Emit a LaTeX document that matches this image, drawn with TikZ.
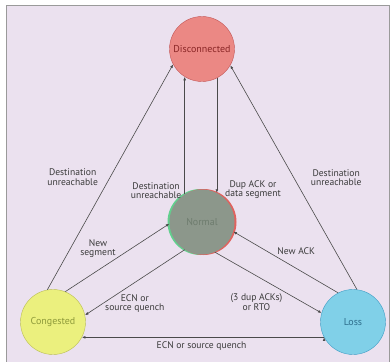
\documentclass[tikz,border=0pt]{standalone}
\usepackage{fontspec}
\setmainfont{PT Sans}
\usetikzlibrary{arrows.meta, positioning}
\definecolor{bgpurple}{HTML}{EBE1EF}
\definecolor{framegray}{HTML}{9A9A9A}
\definecolor{linegray}{HTML}{4A4A4A}
\definecolor{labelgray}{HTML}{3A3A3A}
\definecolor{discfill}{HTML}{EB8884}
\definecolor{discdraw}{HTML}{C25555}
\definecolor{disctext}{HTML}{8A2626}
\definecolor{normfill}{HTML}{8C978B}
\definecolor{normtext}{HTML}{6E7C6E}
\definecolor{rimgreen}{HTML}{62D08E}
\definecolor{rimred}{HTML}{E0625E}
\definecolor{congfill}{HTML}{EBF07E}
\definecolor{congdraw}{HTML}{B9BE52}
\definecolor{congtext}{HTML}{8E9A3A}
\definecolor{lossfill}{HTML}{80D0E8}
\definecolor{lossdraw}{HTML}{3D9CC4}
\definecolor{losstext}{HTML}{2E6E8C}

\begin{document}
\begin{tikzpicture}[x=1pt,y=-1pt,>={Latex[length=3.6pt,width=2.8pt]}]
    \tikzstyle{state}=[shape=circle,draw,thin,minimum size=65pt,inner sep=0pt,font=\fontsize{10}{11}\selectfont]
    \tikzstyle{lbl}=[font=\fontsize{9.6}{9.2}\selectfont,text=labelgray,align=center,inner sep=1pt]

    \useasboundingbox (0,0) rectangle (392,362);
    \draw[fill=bgpurple, draw=framegray, line width=0.8pt] (6,5) rectangle (389,368);

    % two rims behind the normal state
    \fill[rimgreen] (200.5,222) circle (33pt);
    \fill[rimred] (203.5,222) circle (33pt);

    \node[state, fill=discfill, draw=discdraw, text=disctext] (D) at (202,49) {Disconnected};
    \node[state, fill=normfill, draw=none, text=normtext] (N) at (202,222) {Normal};
    \node[state, fill=congfill, draw=congdraw, text=congtext] (C) at (53,322) {Congested};
    \node[state, fill=lossfill, draw=lossdraw, text=losstext] (L) at (353,322) {Loss};

    \path[->,draw,linegray,semithick]
    (C.100) edge node[lbl, pos=0.5, left=11pt] {Destination\\unreachable} (D.208)
    (N.122) edge node[lbl, pos=0.03, left=2pt] {Destination\\unreachable} (D.238)
    (D.297) edge node[lbl, pos=0.97, right=7pt] {Dup ACK or\\data segment} (N.63)
    (L.83) edge node[lbl, pos=0.5, right=16pt] {Destination\\unreachable} (D.330)
    (C.68) edge node[lbl, pos=0.63, left=14pt] {New\\segment} (N.183)
    (N.238) edge node[lbl, pos=0.5, below=11pt] {ECN or\\source quench} (C.12)
    (L.117) edge node[lbl, pos=0.4, above=12pt] {New ACK} (N.343)
    (N.293) edge node[lbl, pos=0.39, below=17pt] {(3 dup ACKs)\\or RTO} (L.164)
    (L.208) edge node[lbl, pos=0.506, below=3pt] {ECN or source quench} (C.332)
    ;

\end{tikzpicture}
\end{document}
